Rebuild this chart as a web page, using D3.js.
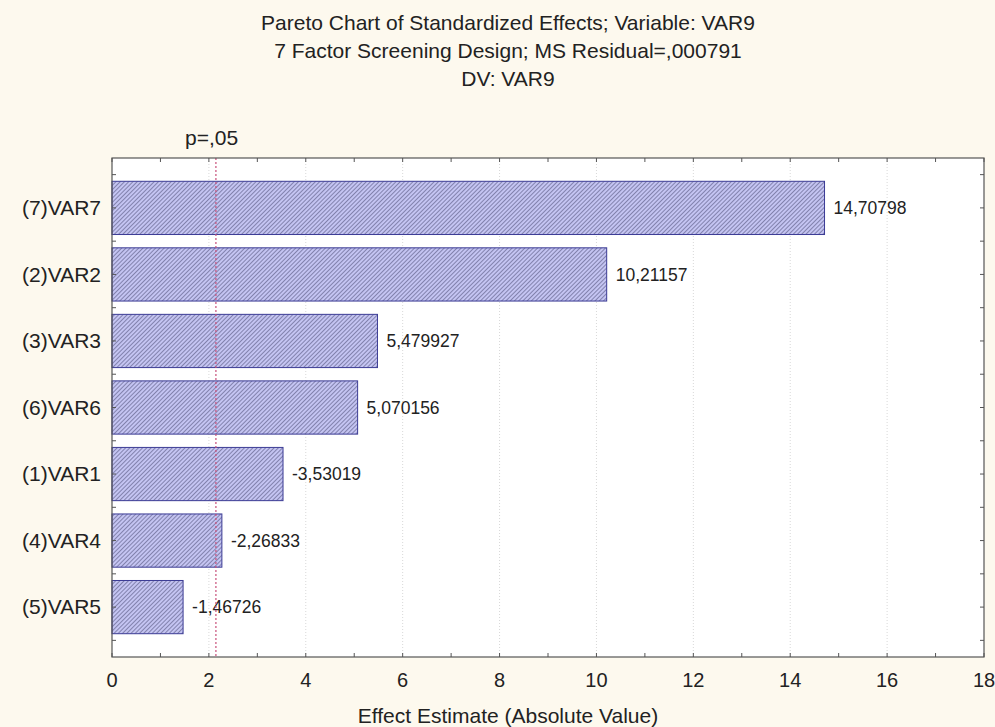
<!DOCTYPE html>
<html>
<head>
<meta charset="utf-8">
<script src="https://cdn.jsdelivr.net/npm/d3@7"></script>
<style>
  body { margin: 0; background: #fdf9ee; }
  text { font-family: Arial, "Liberation Sans", sans-serif; fill: #222; }
</style>
</head>
<body>
<div id="chart"></div>
<script>
// chart values
var factors = ["(7)VAR7", "(2)VAR2", "(3)VAR3", "(6)VAR6", "(1)VAR1", "(4)VAR4", "(5)VAR5"];
var effects = [14.70798, 10.21157, 5.479927, 5.070156, -3.53019, -2.26833, -1.46726];
var effectLabels = ["14,70798", "10,21157", "5,479927", "5,070156", "-3,53019", "-2,26833", "-1,46726"];
var xTicks = [0, 2, 4, 6, 8, 10, 12, 14, 16, 18];
var pCritical = 2.145;
var titleLines = [
  "Pareto Chart of Standardized Effects; Variable: VAR9",
  "7 Factor Screening Design; MS Residual=,000791",
  "DV: VAR9"
];

var width = 995;
var height = 727;
var plot = {left: 112, top: 158, right: 984, bottom: 657};

var svg = d3.select("#chart")
  .append("svg")
    .attr("width", width)
    .attr("height", height);

svg.append("rect")
  .attr("width", width)
  .attr("height", height)
  .attr("fill", "#fdf9ee");

// hatched fill for the bars
var pat = svg.append("defs")
  .append("pattern")
    .attr("id", "hatch")
    .attr("patternUnits", "userSpaceOnUse")
    .attr("width", 3)
    .attr("height", 3)
    .attr("patternTransform", "rotate(45)");
pat.append("rect")
  .attr("width", 3).attr("height", 3)
  .attr("fill", "#c4c4f2");
pat.append("line")
  .attr("x1", 0).attr("y1", 0).attr("x2", 0).attr("y2", 3)
  .attr("stroke", "#55557e")
  .attr("stroke-width", 1.2);

var x = d3.scaleLinear()
  .domain([0, 18])
  .range([plot.left, plot.right]);

// bars sit at 0..6 on a linear scale with padding either side
var y = d3.scaleLinear()
  .domain([-0.75, factors.length - 0.25])
  .range([plot.top, plot.bottom]);

svg.append("rect")
  .attr("x", plot.left)
  .attr("y", plot.top)
  .attr("width", plot.right - plot.left)
  .attr("height", plot.bottom - plot.top)
  .attr("fill", "#fff");

// grid
svg.append("g")
  .selectAll("line")
  .data(xTicks.slice(1, -1))
  .enter()
  .append("line")
    .attr("x1", function(d){ return x(d); })
    .attr("x2", function(d){ return x(d); })
    .attr("y1", plot.top)
    .attr("y2", plot.bottom)
    .attr("stroke", "#d8d8d8")
    .attr("stroke-dasharray", "1,2");

var barH = 0.8;

svg.append("g")
  .selectAll("rect")
  .data(effects)
  .enter()
  .append("rect")
    .attr("x", x(0))
    .attr("y", function(d, i){ return y(i - barH / 2); })
    .attr("width", function(d){ return x(Math.abs(d)) - x(0); })
    .attr("height", y(barH) - y(0))
    .attr("fill", "url(#hatch)")
    .attr("stroke", "#3b3b95")
    .attr("stroke-width", 1);

svg.append("g")
  .selectAll("text")
  .data(effects)
  .enter()
  .append("text")
    .attr("x", function(d){ return x(Math.abs(d)) + 9; })
    .attr("y", function(d, i){ return y(i); })
    .attr("dy", "0.35em")
    .style("font-size", "17.5px")
    .text(function(d, i){ return effectLabels[i]; });

// p = .05 line
svg.append("line")
  .attr("x1", x(pCritical))
  .attr("x2", x(pCritical))
  .attr("y1", plot.top)
  .attr("y2", plot.bottom)
  .attr("stroke", "#c8507a")
  .attr("stroke-width", 1.2)
  .attr("stroke-dasharray", "2,2");

svg.append("text")
  .attr("x", 185)
  .attr("y", 145)
  .style("font-size", "21px")
  .text("p=,05");

// frame ticks (inward)
var minor = d3.range(0, 19, 1);
var yMinor = d3.range(-0.5, factors.length - 0.25, 0.5);
var tickG = svg.append("g").attr("stroke", "#555").attr("stroke-width", 1);
minor.forEach(function(v){
  tickG.append("line").attr("x1", x(v)).attr("x2", x(v)).attr("y1", plot.bottom).attr("y2", plot.bottom - 4);
  tickG.append("line").attr("x1", x(v)).attr("x2", x(v)).attr("y1", plot.top).attr("y2", plot.top + 4);
});
yMinor.forEach(function(v){
  tickG.append("line").attr("x1", plot.left).attr("x2", plot.left + 4).attr("y1", y(v)).attr("y2", y(v));
  tickG.append("line").attr("x1", plot.right).attr("x2", plot.right - 4).attr("y1", y(v)).attr("y2", y(v));
});

svg.append("rect")
  .attr("x", plot.left)
  .attr("y", plot.top)
  .attr("width", plot.right - plot.left)
  .attr("height", plot.bottom - plot.top)
  .attr("fill", "none")
  .attr("stroke", "#555")
  .attr("stroke-width", 1.2);

// x tick labels
svg.append("g")
  .selectAll("text")
  .data(xTicks)
  .enter()
  .append("text")
    .attr("x", function(d){ return x(d); })
    .attr("y", 687)
    .attr("text-anchor", "middle")
    .style("font-size", "20px")
    .text(function(d){ return d; });

// category labels
svg.append("g")
  .selectAll("text")
  .data(factors)
  .enter()
  .append("text")
    .attr("x", 101)
    .attr("y", function(d, i){ return y(i); })
    .attr("dy", "0.35em")
    .attr("text-anchor", "end")
    .style("font-size", "21px")
    .text(function(d){ return d; });

svg.append("text")
  .attr("x", 508)
  .attr("y", 723)
  .attr("text-anchor", "middle")
  .style("font-size", "21px")
  .text("Effect Estimate (Absolute Value)");

svg.append("g")
  .selectAll("text")
  .data(titleLines)
  .enter()
  .append("text")
    .attr("x", 508)
    .attr("y", function(d, i){ return 30 + i * 28; })
    .attr("text-anchor", "middle")
    .style("font-size", "21px")
    .text(function(d){ return d; });
</script>
</body>
</html>
